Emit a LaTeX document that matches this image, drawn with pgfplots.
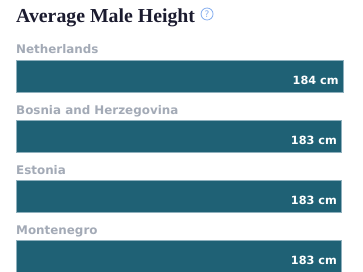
\documentclass[border=0pt]{standalone}
\usepackage{pgfplots}
\pgfplotsset{compat=1.18}
\usepackage{fontspec}
\setmainfont{DejaVu Sans}
\newfontfamily\titlefont{Liberation Serif}
\definecolor{barc}{HTML}{1F6175}
\definecolor{bare}{HTML}{8FB0BD}
\definecolor{lab}{HTML}{A3AAB6}
\definecolor{ttl}{HTML}{1B1B2F}
\definecolor{qc}{HTML}{86AEEE}
\begin{document}
\begin{tikzpicture}
\path[use as bounding box] (0,0) rectangle (363pt,271pt);
\begin{axis}[at={(0,0)},anchor=south west,
  width=363pt,height=271pt,scale only axis,
  xmin=-9.003, xmax=195.25, ymin=0, ymax=271, y dir=reverse,
  axis lines=none, xbar, bar width=32, point meta=x,
  /pgf/number format/assume math mode=true,
  nodes near coords={\pgfmathprintnumber[fixed,precision=0,assume math mode=true]{\pgfplotspointmeta} cm},
  every node near coord/.append style={anchor=base east, xshift=-4pt, yshift=-8pt,
    font=\bfseries\fontsize{11.3}{13}\selectfont, text=white, inner sep=0pt},
]
\addplot[fill=barc, draw=bare, line width=0.6pt] coordinates {(184,76) (183,136) (183,196) (183,256)};
\node[anchor=base west, inner sep=0pt, text=ttl, font=\titlefont\bfseries\fontsize{19.8}{22}\selectfont] at (axis cs:0,22) {Average Male Height};
\node[circle, draw=qc, line width=0.8pt, text=qc, inner sep=0pt, minimum size=12pt, font=\fontsize{9}{9}\selectfont] at (axis cs:107.5,14) {?};
\node[anchor=base west, inner sep=0pt, text=lab, font=\bfseries\fontsize{11.9}{13}\selectfont] at (axis cs:0,53) {Netherlands};
\node[anchor=base west, inner sep=0pt, text=lab, font=\bfseries\fontsize{11.9}{13}\selectfont] at (axis cs:0,114) {Bosnia and Herzegovina};
\node[anchor=base west, inner sep=0pt, text=lab, font=\bfseries\fontsize{11.9}{13}\selectfont] at (axis cs:0,174) {Estonia};
\node[anchor=base west, inner sep=0pt, text=lab, font=\bfseries\fontsize{11.9}{13}\selectfont] at (axis cs:0,234) {Montenegro};
\end{axis}
\end{tikzpicture}
\end{document}
